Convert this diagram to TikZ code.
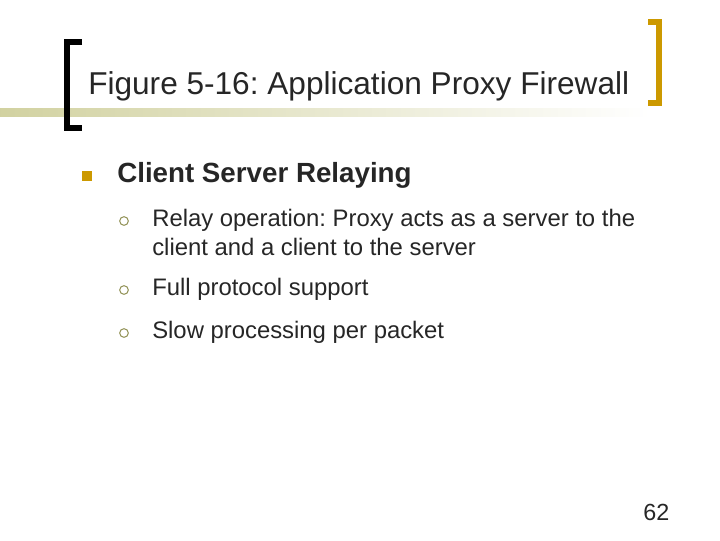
\documentclass[tikz,border=0pt]{standalone}
\usepackage{fontspec}
\setmainfont{Liberation Sans}
\usetikzlibrary{positioning}
\definecolor{gold}{RGB}{204,153,0}
\definecolor{olive}{RGB}{190,190,120}
\tikzset{
  txt/.style={anchor=west,inner sep=0pt,text=black!85},
  sub/.style={txt,font=\fontsize{17.9}{22}\selectfont,align=left},
  ring/.style={circle,draw=olive!80!black,line width=0.8pt,minimum size=6.5pt,inner sep=0pt}
}
\frenchspacing
\begin{document}
\begin{tikzpicture}[x=0.75pt,y=-0.75pt]
\useasboundingbox (0,0) rectangle (720,540);

% bar under the title
\shade[left color=olive!70,right color=white] (0,108) rectangle (650,116);

% brackets
\draw[line width=4.5pt] (82,42) -- (67,42) -- (67,128) -- (82,128);
\draw[gold,line width=4.5pt] (648,22) -- (659,22) -- (659,103) -- (648,103);

\node[txt,font=\fontsize{23.7}{28}\selectfont] (title) at (88,86) {Figure 5-16: Application Proxy Firewall};

% main point
\node[fill=gold,minimum size=7.5pt,inner sep=0pt] (sq) at (87,176) {};
\node[txt,font=\bfseries\fontsize{20.8}{24}\selectfont] (main) at (117,175) {Client Server Relaying};

% sub points
\node[ring] (r1) at (124,221) {};
\node[sub,anchor=north west] (p1) at (152,209) {Relay operation: Proxy acts as a server to the\\client and a client to the server};
\node[ring] (r2) at (124,290) {};
\node[sub] (p2) at (152,289) {Full protocol support};
\node[ring] (r3) at (124,333) {};
\node[sub] (p3) at (152,332) {Slow processing per packet};

\node[txt,font=\fontsize{17.5}{20}\selectfont] (num) at (643,512) {62};
\end{tikzpicture}
\end{document}
